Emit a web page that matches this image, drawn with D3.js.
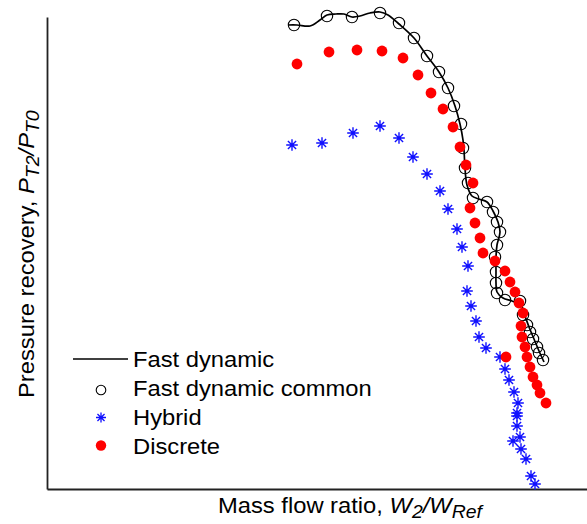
<!DOCTYPE html>
<html>
<head>
<meta charset="utf-8">
<script src="https://cdn.jsdelivr.net/npm/d3@7"></script>
<style>
  html, body { margin: 0; padding: 0; background: #fff; }
  svg { display: block; }
  text { font-family: "Liberation Sans", Arial, sans-serif; fill: #000; }
</style>
</head>
<body>
<svg id="chart" width="587" height="524"></svg>
<script>
// ---- Data (axes carry no tick labels) ----
const fastDynX = [0.782,0.800,0.826,0.846,0.860,0.878,0.894,0.910,0.926,0.946,0.966,0.982,1.004,1.034,1.060,1.084,1.102,1.116,1.126,1.132,1.134,1.136,1.140,1.150,1.164,1.180,1.192,1.202,1.206,1.200,1.198,1.198,1.198,1.200,1.212,1.230,1.248,1.256,1.264,1.274,1.284,1.294];
const fastDynY = [0.992,0.992,0.9915,0.9945,0.997,0.9975,0.9975,0.996,0.9965,0.998,0.9985,0.997,0.9925,0.9855,0.9765,0.9685,0.9605,0.9515,0.9425,0.9345,0.9295,0.9205,0.912,0.9065,0.905,0.9035,0.899,0.8935,0.8885,0.882,0.876,0.8685,0.863,0.8585,0.8555,0.854,0.852,0.8465,0.841,0.835,0.829,0.8235];

const commonX = [0.794,0.860,0.910,0.966,1.004,1.034,1.060,1.084,1.102,1.114,1.128,1.132,1.136,1.142,1.152,1.180,1.192,1.200,1.206,1.200,1.196,1.198,1.198,1.200,1.216,1.246,1.252,1.260,1.266,1.272,1.280,1.284,1.292];
const commonY = [0.992,0.9965,0.996,0.998,0.993,0.9855,0.9765,0.9685,0.9605,0.9515,0.9425,0.9305,0.9205,0.913,0.9055,0.9035,0.8985,0.8935,0.8885,0.882,0.876,0.8685,0.863,0.858,0.8545,0.854,0.847,0.842,0.8385,0.835,0.831,0.828,0.8245];

const hybridX = [0.790,0.850,0.912,0.966,1.004,1.032,1.060,1.086,1.102,1.120,1.130,1.142,1.140,1.148,1.158,1.164,1.178,1.206,1.216,1.224,1.234,1.242,1.240,1.240,1.240,1.232,1.246,1.248,1.258,1.268,1.276];
const hybridY = [0.932,0.933,0.938,0.9415,0.9355,0.926,0.9175,0.909,0.900,0.890,0.881,0.8715,0.859,0.8515,0.844,0.836,0.8305,0.826,0.820,0.8145,0.8085,0.803,0.798,0.7965,0.7915,0.784,0.786,0.780,0.775,0.7665,0.7625];

const discreteX = [0.800,0.864,0.920,0.970,1.012,1.042,1.068,1.092,1.112,1.126,1.138,1.152,1.146,1.156,1.166,1.172,1.196,1.216,1.226,1.236,1.244,1.252,1.248,1.250,1.256,1.260,1.218,1.266,1.272,1.280,1.286,1.298];
const discreteY = [0.9725,0.9785,0.9795,0.979,0.9755,0.967,0.958,0.950,0.941,0.931,0.922,0.913,0.9005,0.893,0.8855,0.878,0.874,0.869,0.8635,0.8585,0.853,0.848,0.8415,0.836,0.831,0.826,0.826,0.821,0.816,0.812,0.808,0.803];

const legendLabels = ["Fast dynamic", "Fast dynamic common", "Hybrid", "Discrete"];

// ---- Chart ----
const svg = d3.select("#chart");
const x = d3.scaleLinear().domain([0.3, 1.38]).range([47, 587]);
const y = d3.scaleLinear().domain([0.76, 0.996]).range([489, 17]);

const zip = (a, b) => a.map((v, i) => [v, b[i]]);

// axes (no ticks)
svg.append("g").attr("transform", "translate(0,489)")
  .call(d3.axisBottom(x).tickValues([]).tickSizeOuter(0))
  .select(".domain").attr("stroke", "#222").attr("stroke-width", 1.8);
svg.append("g").attr("transform", "translate(47,0)")
  .call(d3.axisLeft(y).tickValues([]).tickSizeOuter(0))
  .select(".domain").attr("stroke", "#222").attr("stroke-width", 1.8);

// Fast dynamic line
const line = d3.line().x(d => x(d[0])).y(d => y(d[1])).curve(d3.curveCatmullRom.alpha(0.5));
svg.append("path").datum(zip(fastDynX, fastDynY))
  .attr("d", line).attr("fill", "none").attr("stroke", "#000").attr("stroke-width", 1.7);

// Fast dynamic common
svg.append("g").selectAll("circle").data(zip(commonX, commonY)).join("circle")
  .attr("cx", d => x(d[0])).attr("cy", d => y(d[1])).attr("r", 5.7)
  .attr("fill", "none").attr("stroke", "#000").attr("stroke-width", 1.1);

// asterisk path
function asterisk(r) {
  const a = r * Math.SQRT1_2;
  return `M${-r},0L${r},0M0,${-r}L0,${r}M${-a},${-a}L${a},${a}M${-a},${a}L${a},${-a}`;
}
svg.append("g").selectAll("path").data(zip(hybridX, hybridY)).join("path")
  .attr("transform", d => `translate(${x(d[0])},${y(d[1])})`)
  .attr("d", asterisk(5.8)).attr("fill", "none").attr("stroke", "#1010ff").attr("stroke-width", 1.4);

// Discrete
svg.append("g").selectAll("circle").data(zip(discreteX, discreteY)).join("circle")
  .attr("cx", d => x(d[0])).attr("cy", d => y(d[1])).attr("r", 5.4)
  .attr("fill", "#ff0000");

// ---- Legend ----
const lg = svg.append("g");
const rowY = [367, 396, 425, 454];
legendLabels.forEach((t, i) => {
  lg.append("text").attr("transform", `translate(133,${rowY[i]}) scale(1.08,1)`)
    .attr("font-size", 22).text(t);
});
lg.append("line").attr("x1", 73).attr("x2", 128).attr("y1", 359).attr("y2", 359)
  .attr("stroke", "#000").attr("stroke-width", 1.7);
lg.append("circle").attr("cx", 101).attr("cy", 390).attr("r", 4.8)
  .attr("fill", "none").attr("stroke", "#000").attr("stroke-width", 1.1);
lg.append("path").attr("transform", "translate(101,417.5)").attr("d", asterisk(5))
  .attr("fill", "none").attr("stroke", "#1010ff").attr("stroke-width", 1.3);
lg.append("circle").attr("cx", 101).attr("cy", 445.5).attr("r", 5.2).attr("fill", "#ff0000");

// ---- Axis titles ----
const xt = svg.append("text").attr("transform", "translate(218,513) scale(1.08,1)").attr("font-size", 22);
xt.append("tspan").text("Mass flow ratio, ");
xt.append("tspan").attr("font-style", "italic").text("W");
xt.append("tspan").attr("font-style", "italic").attr("font-size", 18).attr("dy", 5).text("2");
xt.append("tspan").attr("font-style", "italic").attr("dy", -5).text("/W");
xt.append("tspan").attr("font-style", "italic").attr("font-size", 18).attr("dy", 5).text("Ref");

const yt = svg.append("text").attr("transform", "translate(34,398) rotate(-90) scale(1.08,1)")
  .attr("font-size", 22).attr("text-anchor", "start");
yt.append("tspan").text("Pressure recovery, ");
yt.append("tspan").attr("font-style", "italic").text("P");
yt.append("tspan").attr("font-style", "italic").attr("font-size", 18).attr("dy", 5).text("T2");
yt.append("tspan").attr("font-style", "italic").attr("dy", -5).text("/P");
yt.append("tspan").attr("font-style", "italic").attr("font-size", 18).attr("dy", 5).text("T0");
</script>
</body>
</html>
